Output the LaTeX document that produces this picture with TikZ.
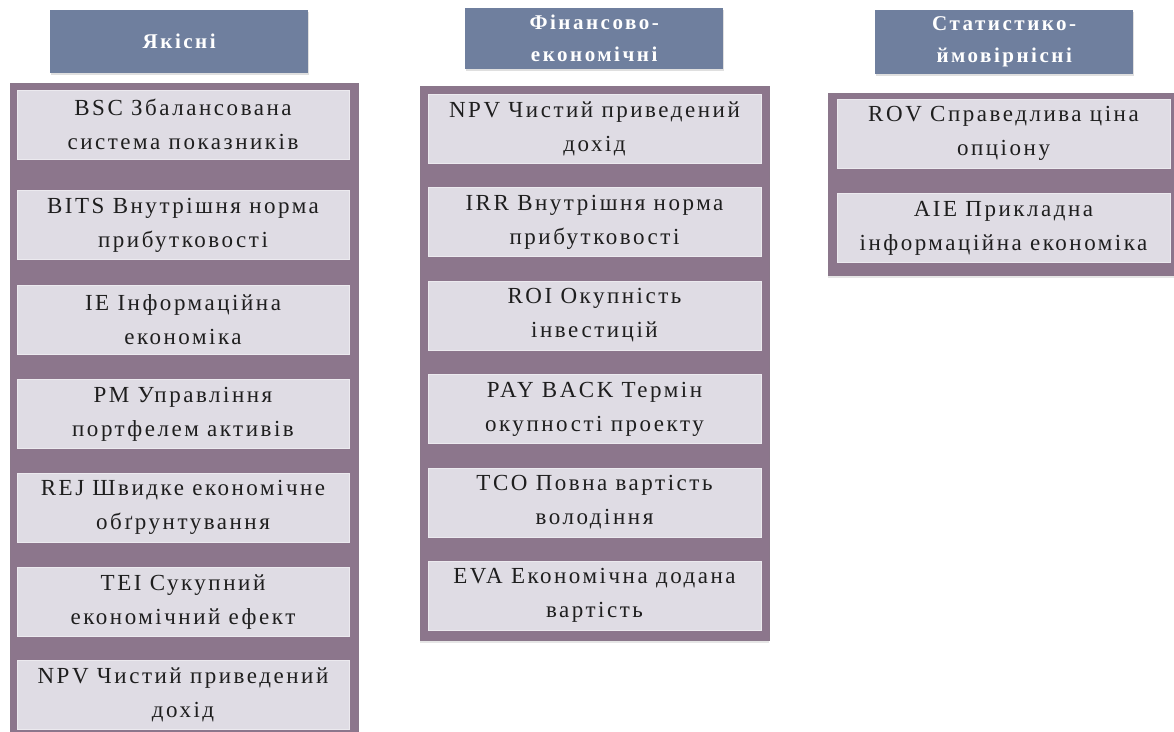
\documentclass[tikz,border=0pt]{standalone}
\usepackage{fontspec}
\usepackage{xcolor}
\usepackage{tikz}
\usetikzlibrary{positioning,shadows}
\newfontfamily\itemfont{Liberation Serif}[LetterSpace=11]
\newfontfamily\headfont{Liberation Serif}[LetterSpace=12]
\definecolor{headblue}{RGB}{111, 127, 158}
\definecolor{groupmauve}{RGB}{140, 118, 140}
\definecolor{itemgray}{RGB}{223, 220, 228}
\definecolor{itemtext}{RGB}{30, 30, 30}

\tikzset{
  headbox/.style={rectangle, fill=headblue, anchor=north west, inner sep=0pt,
    minimum width=258pt, align=center, text=white,
    font=\headfont\bfseries\fontsize{21}{32}\selectfont,
    drop shadow={opacity=0.25, shadow xshift=1pt, shadow yshift=-2pt}},
  groupbox/.style={rectangle, fill=groupmauve, draw=groupmauve!85!gray, anchor=north west,
    inner sep=0pt, drop shadow={opacity=0.2, shadow xshift=0pt, shadow yshift=-3pt}},
  itembox/.style={rectangle, fill=itemgray, draw=itemgray!60!white, anchor=north,
    inner sep=0pt, minimum width=332pt, minimum height=69pt, align=center,
    text=itemtext, font=\itemfont\fontsize{23}{34}\selectfont}
}

\begin{document}
\begin{tikzpicture}[x=1pt, y=-1pt]
            \useasboundingbox (0,0) rectangle (1174,731);

            % Headers
            \node[headbox, minimum height=63pt] (headQual) at (50,10) {Якісні};
            \node[headbox, minimum height=61pt] (headFin) at (465,8) {Фінансово-\\економічні};
            \node[headbox, minimum height=64pt] (headStat) at (875,10) {Статистико-\\ймовірнісні};

            % Group backgrounds
            \node[groupbox, minimum width=348pt, minimum height=660pt] (groupQual) at (10,83) {};
            \node[groupbox, minimum width=349pt, minimum height=554pt] (groupFin) at (420,86) {};
            \node[groupbox, minimum width=352pt, minimum height=182pt] (groupStat) at (828,93) {};

            % Qualitative methods
            \node[itembox] (bsc) at (183,90) {BSC Збалансована\\система показників};
            \node[itembox, below=31pt of bsc] (bits) {BITS Внутрішня норма\\прибутковості};
            \node[itembox, below=25pt of bits] (ie) {IE Інформаційна\\економіка};
            \node[itembox, below=25pt of ie] (pm) {PM Управління\\портфелем активів};
            \node[itembox, below=24pt of pm] (rej) {REJ Швидке економічне\\обґрунтування};
            \node[itembox, below=25pt of rej] (tei) {TEI Сукупний\\економічний ефект};
            \node[itembox, below=24pt of tei] (npvQual) {NPV Чистий приведений\\дохід};

            % Financial methods
            \node[itembox, minimum width=333pt] (npvFin) at (594.5,94) {NPV Чистий приведений\\дохід};
            \node[itembox, minimum width=333pt, below=24pt of npvFin] (irr) {IRR Внутрішня норма\\прибутковості};
            \node[itembox, minimum width=333pt, below=24pt of irr] (roi) {ROI Окупність\\інвестицій};
            \node[itembox, minimum width=333pt, below=24pt of roi] (payback) {PAY BACK Термін\\окупності проекту};
            \node[itembox, minimum width=333pt, below=24pt of payback] (tco) {TCO Повна вартість\\володіння};
            \node[itembox, minimum width=333pt, below=24pt of tco] (eva) {EVA Економічна додана\\вартість};

            % Statistical methods
            \node[itembox, minimum width=333pt] (rov) at (1003.5,99) {ROV Справедлива ціна\\опціону};
            \node[itembox, minimum width=333pt, below=25pt of rov] (aie) {AIE Прикладна\\інформаційна економіка};
        \end{tikzpicture}
\end{document}
